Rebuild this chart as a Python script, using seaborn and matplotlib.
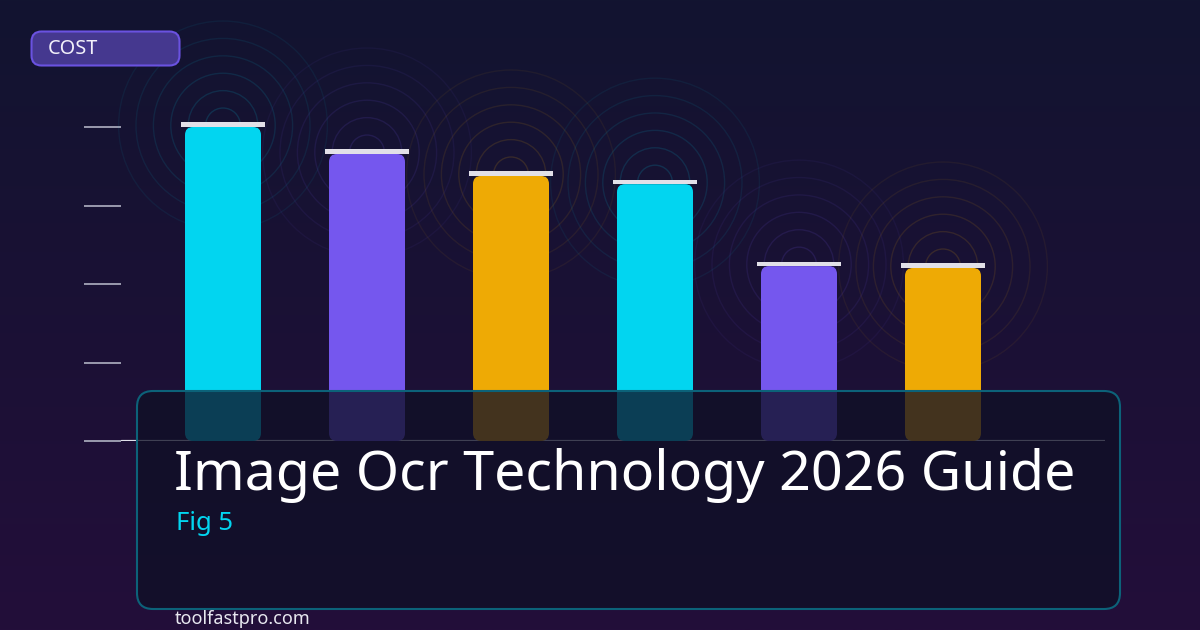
import numpy as np
import pandas as pd
import matplotlib
matplotlib.use("Agg")
import matplotlib.pyplot as plt
import seaborn as sns
from matplotlib.patches import FancyBboxPatch

sns.set_theme(style="dark")
plt.rcParams["font.family"] = ["Noto Sans", "DejaVu Sans"]

# ---- data -------------------------------------------------------
categories = ["A", "B", "C", "D", "E", "F"]
cost_values = [100, 91.4, 84.4, 81.8, 55.7, 55.1]
bar_colors = ["#02d5f0", "#7557ee", "#eeaa05", "#02d5f0", "#7557ee", "#eeaa05"]
y_ticks = [0, 25, 50, 75, 100]

badge_text = "COST"
title_text = "Image Ocr Technology 2026 Guide"
fig_label = "Fig 5"
footer_text = "toolfastpro.com"

df = pd.DataFrame({"cat": categories, "cost": cost_values})

# ---- figure -----------------------------------------------------
W, H = 1200, 630
fig = plt.figure(figsize=(12, 6.3), dpi=100)

# background gradient
ax_bg = fig.add_axes([0, 0, 1, 1], zorder=0)
top = np.array([18, 20, 48]) / 255
bot = np.array([35, 14, 58]) / 255
t = np.linspace(0, 1, 256)[:, None]
grad = top * (1 - t) + bot * t
ax_bg.imshow(grad[:, None, :].repeat(2, axis=1), aspect="auto", extent=[0, 1, 0, 1])
ax_bg.axis("off")

# main chart axes (pixel layout: x 121..1105, y 0..441)
ax = fig.add_axes([121 / W, 0.3, (1105 - 121) / W, 0.7], zorder=1)
ax.set_facecolor("none")
px_per_x = 144.0
px_per_y = 3.14
ymax = 441 / px_per_y
xmin = (121 - 223) / px_per_x
xmax = (1105 - 223) / px_per_x

sns.barplot(data=df, x="cat", y="cost", hue="cat", palette=bar_colors,
            saturation=1, width=76 / px_per_x, legend=False, ax=ax)
ax.set_xlim(xmin, xmax)
ax.set_ylim(0, ymax)

# rounded bars from seaborn's patches
aspect = (1 / px_per_y) / (1 / px_per_x)
for p in list(ax.patches):
    x0, y0 = p.get_x(), p.get_y()
    w, h = p.get_width(), p.get_height()
    fc = p.get_facecolor()
    p.set_visible(False)
    ax.add_patch(FancyBboxPatch((x0, y0), w, h,
                                boxstyle=f"round,pad=0,rounding_size={8 / px_per_x}",
                                mutation_aspect=aspect, fc=fc, ec="none", zorder=3))

pos = np.arange(len(categories))

# concentric rings around each bar top
for k in range(1, 7):
    r_pt = 17.4 * k * 0.72
    ax.scatter(pos, np.array(cost_values) + 0.5, s=(2 * r_pt) ** 2,
               facecolors="none", edgecolors=bar_colors,
               linewidths=1.0, alpha=0.17 - 0.018 * k, zorder=1, clip_on=False)

# light caps on top of bars
ax.bar(pos, 4.6 / px_per_y, bottom=cost_values, width=84 / px_per_x,
       color="#e2e0e8", linewidth=0, zorder=4)

# ticks and baseline
ax.set_yticks(y_ticks)
ax.set_yticklabels([])
ax.set_xticks([])
ax.set_xlabel("")
ax.set_ylabel("")
ax.tick_params(axis="y", left=True, length=37 * 0.72, width=1.4,
               color="#9a9aae", direction="out")
for s in ax.spines.values():
    s.set_visible(False)
ax.grid(False)
ax.axhline(0, color="#e0e0ea", lw=2.3, zorder=2)

# ---- overlay in pixel coordinates -------------------------------
ax_o = fig.add_axes([0, 0, 1, 1], zorder=3)
ax_o.set_xlim(0, W)
ax_o.set_ylim(H, 0)
ax_o.axis("off")
ax_o.set_facecolor("none")

ax_o.add_patch(FancyBboxPatch((137, 391), 983, 218,
                              boxstyle="round,pad=0,rounding_size=16",
                              fc=(15 / 255, 16 / 255, 38 / 255, 0.77),
                              ec="#0c6279", lw=1.5))
ax_o.add_patch(FancyBboxPatch((31.5, 31.5), 148, 34,
                              boxstyle="round,pad=0,rounding_size=10",
                              fc="#45388f", ec="#6a52e0", lw=1.5))
ax_o.text(48, 49, badge_text, color="#f2f0fa", fontsize=14.3, va="center", ha="left")

ax_o.text(174, 490, title_text, color="white", fontsize=40,
          va="baseline", ha="left")
ax_o.text(176, 530, fig_label, color="#02d5f0", fontsize=18.5,
          va="baseline", ha="left")
ax_o.text(175, 624, footer_text, color="#e8e8f0", fontsize=13,
          va="baseline", ha="left")

fig.savefig("out.png", dpi=100)
